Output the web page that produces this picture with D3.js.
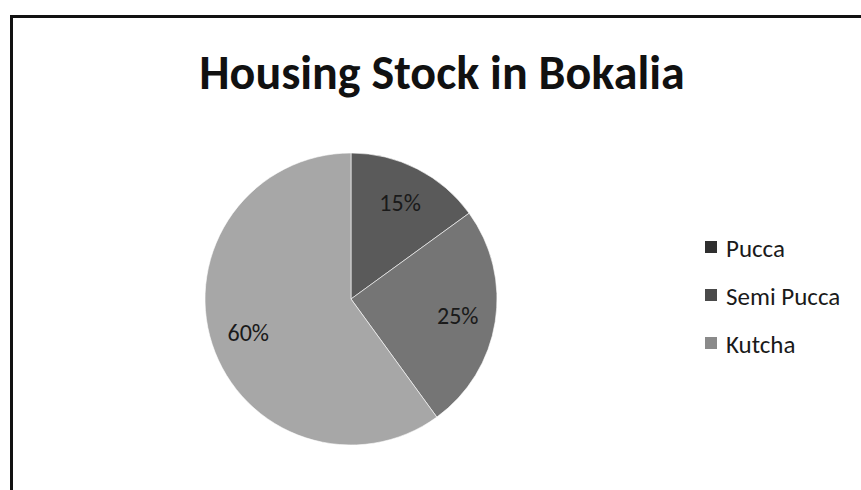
<!DOCTYPE html>
<html>
<head>
<meta charset="utf-8">
<script src="https://cdn.jsdelivr.net/npm/d3@7/dist/d3.min.js"></script>
<style>
  html, body { margin: 0; padding: 0; background: #fff; }
  svg { display: block; }
</style>
</head>
<body>
<svg id="chart" width="861" height="490"></svg>
<script>
// Housing stock shares by type
const categories = ["Pucca", "Semi Pucca", "Kutcha"];
const shares = [15, 25, 60];
const sliceColors = ["#5a5a5a", "#757575", "#a7a7a7"];
const legendColors = ["#2f2f2f", "#4a4a4a", "#8a8a8a"];
const title = "Housing Stock in Bokalia";

const svg = d3.select("#chart");
const font = "Carlito, Calibri, Lato, sans-serif";

// Chart frame (only top and left edges fall inside the view)
svg.append("rect")
  .attr("x", 11.5).attr("y", 16.5)
  .attr("width", 900).attr("height", 600)
  .attr("fill", "#fff").attr("stroke", "#111").attr("stroke-width", 3);

svg.append("text")
  .attr("x", 442).attr("y", 89)
  .attr("text-anchor", "middle")
  .attr("font-family", font)
  .attr("font-weight", "bold")
  .attr("font-size", 48)
  .attr("fill", "#111")
  .text(title);

const cx = 351, cy = 299, r = 146;
const data = categories.map((c, i) => ({ name: c, value: shares[i], color: sliceColors[i], legend: legendColors[i] }));

const pie = d3.pie().value(d => d.value).sort(null);
const arc = d3.arc().innerRadius(0).outerRadius(r);
const labelArc = d3.arc().innerRadius(r * 0.74).outerRadius(r * 0.74);

const g = svg.append("g").attr("transform", `translate(${cx},${cy})`);
const arcs = pie(data);

g.selectAll("path").data(arcs).join("path")
  .attr("d", arc)
  .attr("fill", d => d.data.color)
  .attr("stroke", "#ffffff")
  .attr("stroke-width", 0.6);

g.selectAll("text").data(arcs).join("text")
  .attr("transform", d => `translate(${labelArc.centroid(d)})`)
  .attr("text-anchor", "middle")
  .attr("dominant-baseline", "central")
  .attr("font-family", font)
  .attr("font-size", 24)
  .attr("fill", "#1a1a1a")
  .text(d => d.data.value + "%");

// Legend
const legend = svg.append("g").attr("transform", "translate(705,247)");
const items = legend.selectAll("g").data(data).join("g")
  .attr("transform", (d, i) => `translate(0,${i * 48})`);
items.append("rect")
  .attr("x", 0).attr("y", -6).attr("width", 12).attr("height", 12)
  .attr("fill", d => d.legend);
items.append("text")
  .attr("x", 21).attr("y", 1)
  .attr("dominant-baseline", "central")
  .attr("font-family", font)
  .attr("font-size", 25)
  .attr("fill", "#1a1a1a")
  .text(d => d.name);
</script>
</body>
</html>
